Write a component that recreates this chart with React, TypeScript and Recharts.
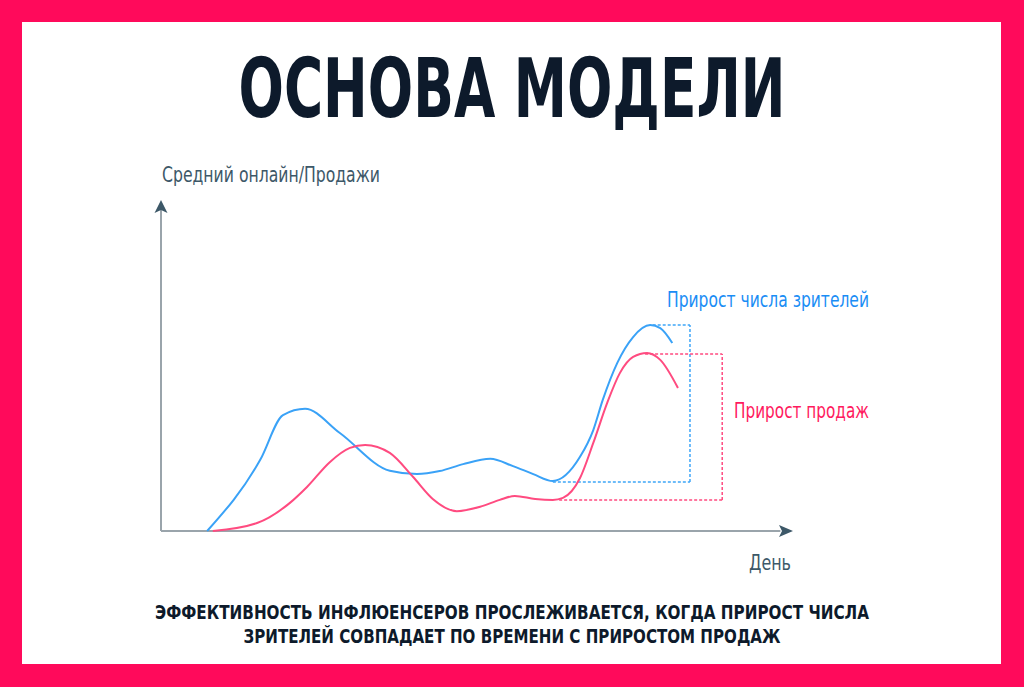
import { LineChart, Line, XAxis, YAxis, ReferenceLine, ReferenceDot } from 'recharts'

// x: day (0-100), y: relative level (0-100)
const viewersCurve = [
  { x: 7.3, y: 0 },
  { x: 15.7, y: 21.5 },
  { x: 19.3, y: 35.0 },
  { x: 22.8, y: 36.9 },
  { x: 28.3, y: 29.6 },
  { x: 36.2, y: 18.2 },
  { x: 40.5, y: 17.2 },
  { x: 44.1, y: 18.1 },
  { x: 47.8, y: 20.2 },
  { x: 52.1, y: 21.8 },
  { x: 55.7, y: 19.6 },
  { x: 58.9, y: 17.2 },
  { x: 62.0, y: 15.1 },
  { x: 66.3, y: 22.4 },
  { x: 68.4, y: 30.5 },
  { x: 69.9, y: 39.6 },
  { x: 72.2, y: 50.8 },
  { x: 74.7, y: 58.6 },
  { x: 77.4, y: 62.2 },
  { x: 79.0, y: 61.3 },
  { x: 80.9, y: 56.8 },
]

const salesCurve = [
  { x: 8.2, y: 0 },
  { x: 15.2, y: 2.4 },
  { x: 20.4, y: 8.5 },
  { x: 23.1, y: 13.3 },
  { x: 26.7, y: 20.8 },
  { x: 29.9, y: 25.1 },
  { x: 32.3, y: 26.0 },
  { x: 36.2, y: 23.6 },
  { x: 39.9, y: 16.3 },
  { x: 43.0, y: 9.7 },
  { x: 46.8, y: 6.0 },
  { x: 50.5, y: 7.3 },
  { x: 53.6, y: 9.4 },
  { x: 56.0, y: 10.6 },
  { x: 59.2, y: 9.7 },
  { x: 62.0, y: 9.4 },
  { x: 63.6, y: 10.0 },
  { x: 66.3, y: 16.0 },
  { x: 68.4, y: 26.6 },
  { x: 70.6, y: 38.7 },
  { x: 72.6, y: 47.7 },
  { x: 74.7, y: 52.6 },
  { x: 76.9, y: 53.8 },
  { x: 79.0, y: 51.7 },
  { x: 81.8, y: 43.2 },
]

// growth windows: bottom starts at the low, top starts at the peak
const viewersBox = { lowX: 62.0, highX: 77.8, rightX: 83.7, low: 14.8, high: 62.2 }
const salesBox = { lowX: 63.0, highX: 76.6, rightX: 88.8, low: 9.4, high: 53.5 }

const footerLines = [
  'ЭФФЕКТИВНОСТЬ ИНФЛЮЕНСЕРОВ ПРОСЛЕЖИВАЕТСЯ, КОГДА ПРИРОСТ ЧИСЛА',
  'ЗРИТЕЛЕЙ СОВПАДАЕТ ПО ВРЕМЕНИ С ПРИРОСТОМ ПРОДАЖ',
]

const PINK = '#ff0a5b'
const BLUE_LINE = '#3aa2f7'
const PINK_LINE = '#ff4b80'
const NAVY = '#0d1a2b'
const SLATE = '#3d5868'
const FONT = '"Liberation Sans Narrow", "DejaVu Sans Condensed", sans-serif'

const arrowUp = (props: any) => {
  const { cx, cy } = props
  return <path d={`M${cx},${cy} L${cx + 6.5},${cy + 13} L${cx},${cy + 10} L${cx - 6.5},${cy + 13} Z`} fill={SLATE} />
}

const arrowRight = (props: any) => {
  const { cx, cy } = props
  return <path d={`M${cx},${cy} L${cx - 14},${cy - 6} L${cx - 11},${cy} L${cx - 14},${cy + 6} Z`} fill={SLATE} />
}

const boxLines = (b: typeof viewersBox, color: string, key: string) => [
  <ReferenceLine key={key + 'b'} segment={[{ x: b.lowX, y: b.low }, { x: b.rightX, y: b.low }]} stroke={color} strokeWidth={1.5} strokeDasharray="3 2" />,
  <ReferenceLine key={key + 'r'} segment={[{ x: b.rightX, y: b.low }, { x: b.rightX, y: b.high }]} stroke={color} strokeWidth={1.5} strokeDasharray="3 2" />,
  <ReferenceLine key={key + 't'} segment={[{ x: b.highX, y: b.high }, { x: b.rightX, y: b.high }]} stroke={color} strokeWidth={1.5} strokeDasharray="3 2" />,
]

export default function App() {
  return (
    <div style={{ position: 'absolute', left: 0, top: 0, width: 1024, height: 687, background: PINK, overflow: 'hidden' }}>
      <div style={{ position: 'absolute', left: 22, top: 22, width: 979, height: 642, background: '#fff' }} />

      <div style={{ position: 'absolute', left: 151, top: 190 }}>
        <LineChart width={652} height={351} margin={{ top: 10, right: 10, bottom: 10, left: 10 }}>
          <XAxis type="number" dataKey="x" domain={[0, 100]} hide allowDuplicatedCategory={false} />
          <YAxis type="number" dataKey="y" domain={[0, 100]} hide />
          <ReferenceLine segment={[{ x: 0, y: 0 }, { x: 98, y: 0 }]} stroke="#9aa4ab" strokeWidth={2} />
          <ReferenceLine segment={[{ x: 0, y: 0 }, { x: 0, y: 97 }]} stroke="#9aa4ab" strokeWidth={2} />
          {boxLines(viewersBox, '#3ea6f8', 'v')}
          {boxLines(salesBox, '#ff4b80', 's')}
          <Line data={viewersCurve} dataKey="y" type="monotone" stroke={BLUE_LINE} strokeWidth={2} dot={false} isAnimationActive={false} />
          <Line data={salesCurve} dataKey="y" type="monotone" stroke={PINK_LINE} strokeWidth={2} dot={false} isAnimationActive={false} />
          <ReferenceDot x={0} y={100} r={0} shape={arrowUp} ifOverflow="visible" />
          <ReferenceDot x={100} y={0} r={0} shape={arrowRight} ifOverflow="visible" />
        </LineChart>
      </div>

      <svg width={1024} height={687} style={{ position: 'absolute', left: 0, top: 0, pointerEvents: 'none' }}>
        <text x={512} y={117} textAnchor="middle" fontFamily={FONT} fontWeight={700} fontSize={82} fill={NAVY} textLength={547} lengthAdjust="spacingAndGlyphs">
          ОСНОВА МОДЕЛИ
        </text>
        <text x={162} y={182} fontFamily={FONT} fontSize={22} fill={SLATE} textLength={218} lengthAdjust="spacingAndGlyphs">
          Средний онлайн/Продажи
        </text>
        <text x={749} y={570} fontFamily={FONT} fontSize={22} fill={SLATE} textLength={42} lengthAdjust="spacingAndGlyphs">
          День
        </text>
        <text x={869} y={307} textAnchor="end" fontFamily={FONT} fontSize={21} fill="#1a8df5" textLength={202} lengthAdjust="spacingAndGlyphs">
          Прирост числа зрителей
        </text>
        <text x={869} y={418} textAnchor="end" fontFamily={FONT} fontSize={21} fill="#ff1a5e" textLength={135} lengthAdjust="spacingAndGlyphs">
          Прирост продаж
        </text>
        <text x={512} y={619} textAnchor="middle" fontFamily={FONT} fontWeight={700} fontSize={19} fill={NAVY} textLength={714} lengthAdjust="spacingAndGlyphs">
          {footerLines[0]}
        </text>
        <text x={512} y={643} textAnchor="middle" fontFamily={FONT} fontWeight={700} fontSize={19} fill={NAVY} textLength={537} lengthAdjust="spacingAndGlyphs">
          {footerLines[1]}
        </text>
      </svg>
    </div>
  )
}
